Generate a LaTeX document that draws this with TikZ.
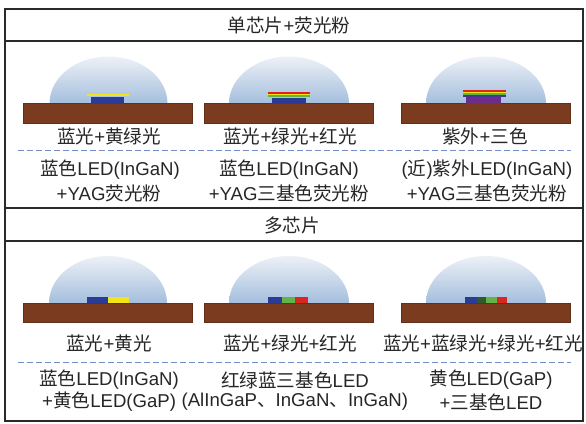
\documentclass[tikz,border=0pt]{standalone}
\usepackage{fontspec}
\setmainfont{Liberation Sans}
\newfontfamily\cjk{Noto Sans CJK SC}
\newcommand\zh[1]{{\cjk #1}}
\definecolor{board}{HTML}{7A3B1E}
\definecolor{domeTop}{HTML}{EDF1F7}
\definecolor{domeBot}{HTML}{A4BEDD}
\definecolor{ledBlue}{HTML}{2B3C96}
\definecolor{ledYellow}{HTML}{F2E41A}
\definecolor{ledGreen}{HTML}{62B446}
\definecolor{ledDkGreen}{HTML}{2F5A2C}
\definecolor{ledRed}{HTML}{D9261F}
\definecolor{ledViolet}{HTML}{6B2C8C}
\definecolor{dashBlue}{HTML}{6F8FC6}
\definecolor{frame}{HTML}{2A2A2A}
\tikzset{
  frameline/.style={draw=frame,line width=1.6pt},
  sepline/.style={draw=dashBlue,line width=1pt,dash pattern=on 5.5pt off 3.5pt},
  label/.style={font=\fontsize{18.6}{22}\selectfont,text=black!85,inner sep=0pt,align=center},
  dome/.style={top color=domeTop,bottom color=domeBot,draw=none},
  pcb/.style={fill=board,draw=board!80!black,line width=0.3pt}
}
% an LED package: dome of half-width #2 on a board, centred at x=#1, board top at y=#3
\newcommand\package[4]{%
  \shade[dome] (#1-#2,#3) arc[start angle=180,end angle=0,x radius=#2,y radius=-47] -- cycle;
  \fill[pcb] (#1-85,#3) rectangle (#1+84,#3+19.5);
}
\begin{document}
\begin{tikzpicture}[x=1pt,y=-1pt]
\useasboundingbox (0,0) rectangle (586,423);
\fill[white] (0,0) rectangle (586,423);

% ---------- single chip + phosphor ----------
\package{108.5}{59}{103.5}{}
\package{289}{60}{103.5}{}
\package{486}{60}{103.5}{}
% blue chip with yellow phosphor
\fill[ledBlue] (91,97) rectangle (124,103.5);
\fill[ledYellow] (87,94) rectangle (129,96.3);
% blue chip with RGB phosphor
\fill[ledBlue] (272,98) rectangle (306,103.5);
\fill[ledGreen] (268,95.3) rectangle (310,97);
\fill[ledYellow] (268,93.6) rectangle (310,95.3);
\fill[ledRed] (268,91.8) rectangle (310,93.6);
% violet chip with RGB phosphor
\fill[ledViolet] (466,97) rectangle (501,103.5);
\fill[ledBlue!60!ledViolet] (463,95.2) rectangle (506,97);
\fill[ledGreen] (463,93.4) rectangle (506,95.2);
\fill[ledYellow] (463,91.6) rectangle (506,93.4);
\fill[ledRed] (463,89.8) rectangle (506,91.6);

% ---------- multi chip ----------
\package{108}{59}{303}{}
\package{289}{60}{303}{}
\package{486}{60}{303}{}
\fill[ledBlue] (87,297) rectangle (108,303);
\fill[ledYellow] (108,297) rectangle (129,303);
\fill[ledBlue] (268,297) rectangle (282,303);
\fill[ledGreen] (282,297) rectangle (295,303);
\fill[ledRed] (295,297) rectangle (308,303);
\fill[ledBlue] (465,297) rectangle (477,303);
\fill[ledDkGreen] (477,297) rectangle (486,303);
\fill[ledGreen] (486,297) rectangle (497,303);
\fill[ledRed] (497,297) rectangle (507,303);

% ---------- frame ----------
\draw[frameline] (5,9) rectangle (583,421);
\draw[frameline] (5,41) -- (583,41);
\draw[frameline] (5,208) -- (583,208);
\draw[frameline] (5,241) -- (583,241);

% ---------- dashed separators ----------
\coordinate (d1a) at (18,150);
\coordinate (d1b) at (571,150);
\coordinate (d2a) at (18,362);
\coordinate (d2b) at (571,362);
\draw[sepline] (d1a) -- (d1b);
\draw[sepline] (d2a) -- (d2b);

% ---------- texts ----------
\node[label] (t1) at (289,25) {\zh{单芯片}+\zh{荧光粉}};
\node[label] (t2) at (292,225) {\zh{多芯片}};

\node[label] (a1) at (109,136) {\zh{蓝光}+\zh{黄绿光}};
\node[label] (a2) at (290,136) {\zh{蓝光}+\zh{绿光}+\zh{红光}};
\node[label] (a3) at (485,136) {\zh{紫外}+\zh{三色}};
\node[label] (b1) at (110,170) {\zh{蓝色}LED(InGaN)};
\node[label] (b2) at (289,170) {\zh{蓝色}LED(InGaN)};
\node[label] (b3) at (487,170) {(\zh{近})\zh{紫外}LED(InGaN)};
\node[label] (c1) at (109,193) {+YAG\zh{荧光粉}};
\node[label] (c2) at (289,193) {+YAG\zh{三基色荧光粉}};
\node[label] (c3) at (487,193) {+YAG\zh{三基色荧光粉}};

\node[label] (e1) at (109,343) {\zh{蓝光}+\zh{黄光}};
\node[label] (e2) at (290,343) {\zh{蓝光}+\zh{绿光}+\zh{红光}};
\node[label] (e3) at (483,343) {\zh{蓝光}+\zh{蓝绿光}+\zh{绿光}+\zh{红光}};
\node[label] (f1) at (109,380) {\zh{蓝色}LED(InGaN)};
\node[label] (f2) at (295,380) {\zh{红绿蓝三基色}LED};
\node[label] (f3) at (491,380) {\zh{黄色}LED(GaP)};
\node[label,anchor=west] (g1) at (42,402) {+\zh{黄色}LED(GaP)};
\node[label,anchor=west] (g2) at (g1.east) {\ (AlInGaP\zh{、}InGaN\zh{、}InGaN)};
\node[label] (g3) at (491,402) {+\zh{三基色}LED};
\end{tikzpicture}
\end{document}
